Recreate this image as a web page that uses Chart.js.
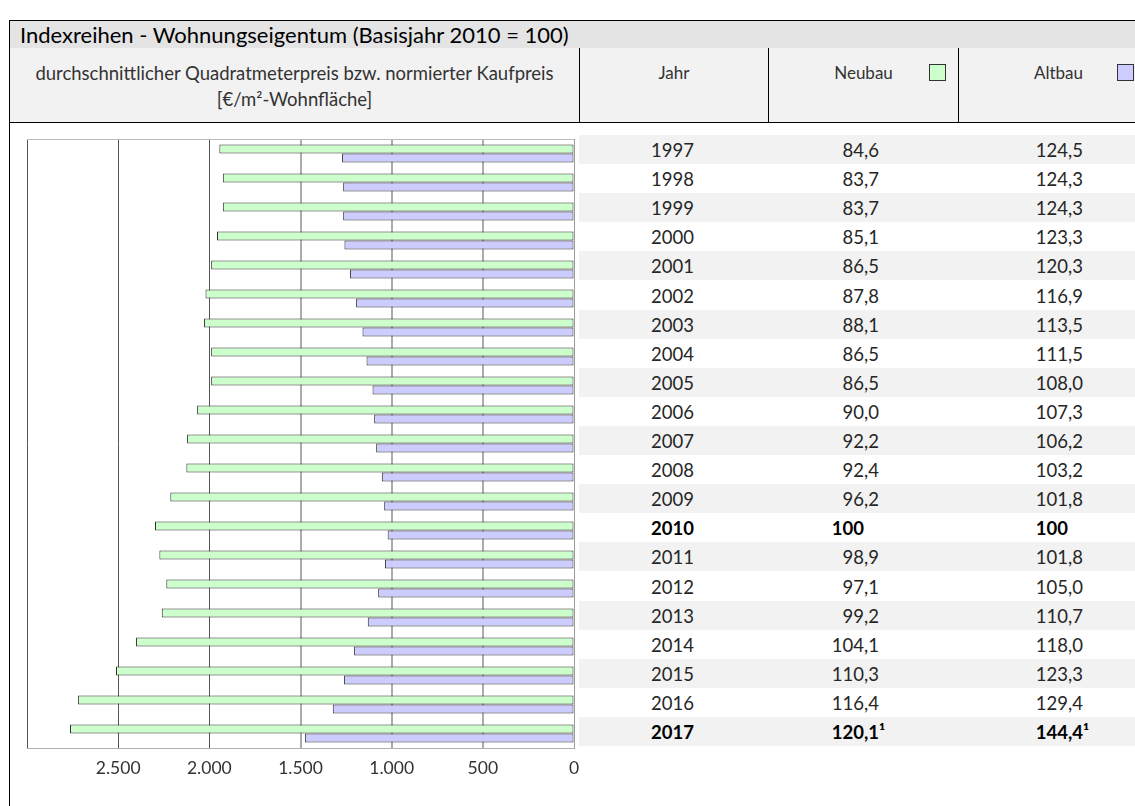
<!DOCTYPE html>
<html lang="de">
<head>
<meta charset="utf-8">
<title>Indexreihen - Wohnungseigentum</title>
<script src="https://cdn.jsdelivr.net/npm/chart.js@4.4.1/dist/chart.umd.min.js"></script>
<style>
  html, body { margin: 0; padding: 0; background: #fff; }
  body { width: 1135px; height: 806px; position: relative; overflow: hidden;
         font-family: "Lato", "Noto Sans", sans-serif; color: #2a2a2a; }
  .abs { position: absolute; }
  #head { left: 9px; top: 20px; width: 1140px; height: 29px; background: #e4e4e4;
          border-top: 1px solid #000; border-left: 1px solid #000; border-bottom: 1px solid #000;
          font-size: 22px; line-height: 27px; color: #000; box-sizing: border-box; padding-left: 10px; }
  #sub { left: 9px; top: 48px; width: 1140px; height: 75px; background: #f2f2f2;
         border-left: 1px solid #000; border-bottom: 1px solid #000; box-sizing: border-box; }
  .cell { position: absolute; top: 0; height: 74px; box-sizing: border-box; text-align: center;
          font-size: 17px; line-height: 26px; padding-top: 12px; color: #333; }
  .cell.wide { font-size: 18.5px; }
  .sep { border-left: 1px solid #000; }
  .key { display: inline-block; width: 15px; height: 15px; border: 1px solid #333;
         position: absolute; top: 16px; }
  #leftline { left: 9px; top: 122px; width: 1px; height: 700px; background: #000; }
  #rows { left: 579px; top: 135px; width: 560px; }
  .row { position: absolute; left: 0; width: 560px; height: 29.1px; font-size: 18.5px;
         line-height: 29px; color: #262626; }
  .row.g { background: #f2f2f2; }
  .row.b { font-weight: bold; color: #000; }
  .yr { position: absolute; left: 72px; top: 1px; }
  .val { position: absolute; top: 1px; white-space: nowrap; }
  .int { display: inline-block; text-align: right; width: 40px; }
  #c { position: absolute; left: 0; top: 0; z-index: 2; }
</style>
</head>
<body>
<div id="head" class="abs">Indexreihen - Wohnungseigentum (Basisjahr 2010 = 100)</div>
<div id="sub" class="abs">
  <div class="cell wide" style="left:0;width:569px;">durchschnittlicher Quadratmeterpreis bzw. normierter Kaufpreis<br>[€/m²-Wohnfläche]</div>
  <div class="cell sep" style="left:569px;width:189px;">Jahr</div>
  <div class="cell sep" style="left:758px;width:190px;">Neubau</div>
  <div class="cell sep" style="left:948px;width:200px;">Altbau</div>
  <span class="key" style="left:919px;background:#ccffcc;"></span>
  <span class="key" style="left:1107px;background:#ccccff;"></span>
</div>
<div id="leftline" class="abs"></div>
<div id="rows" class="abs"></div>
<canvas id="c" width="1135" height="806"></canvas>

<script>
// Jahre (Kategorien)
const jahre = ['1997','1998','1999','2000','2001','2002','2003','2004','2005','2006','2007',
               '2008','2009','2010','2011','2012','2013','2014','2015','2016','2017'];

// durchschnittlicher Quadratmeterpreis bzw. normierter Kaufpreis [€/m²]
const neubauPreis = [1945,1926,1926,1958,1990,2021,2029,1990,1990,2067,2122,
                     2126,2214,2298,2274,2236,2261,2402,2512,2721,2764];
const altbauPreis = [1272,1266,1266,1259,1229,1195,1160,1138,1105,1096,1085,
                     1054,1041,1022,1037,1074,1131,1206,1261,1323,1476];

// Indexwerte (Basisjahr 2010 = 100)
const neubauIndex = ['84,6','83,7','83,7','85,1','86,5','87,8','88,1','86,5','86,5','90,0','92,2',
                     '92,4','96,2','100','98,9','97,1','99,2','104,1','110,3','116,4','120,1'];
const altbauIndex = ['124,5','124,3','124,3','123,3','120,3','116,9','113,5','111,5','108,0','107,3','106,2',
                     '103,2','101,8','100','101,8','105,0','110,7','118,0','123,3','129,4','144,4'];

// hervorgehobene Jahre und Fußnotenzeichen
const fettJahre = ['2010','2017'];
const fussnote = { '2017': '¹' };

// Achsenbeschriftung
const achseMax = 3000;
const achseSchritt = 500;

function fmtTausend(v) {
  return String(v).replace(/\B(?=(\d{3})+(?!\d))/g, '.');
}

// Tabelle rechts neben dem Diagramm
const rowsEl = document.getElementById('rows');
function valueHtml(txt, mark) {
  const i = txt.indexOf(',');
  const intPart = i < 0 ? txt : txt.slice(0, i);
  const frac = i < 0 ? '' : txt.slice(i);
  return '<span class="int">' + intPart + '</span>' + frac + (mark || '');
}
jahre.forEach((j, k) => {
  const r = document.createElement('div');
  r.className = 'row' + (k % 2 === 0 ? ' g' : '') + (fettJahre.includes(j) ? ' b' : '');
  r.style.top = (k * 29.1) + 'px';
  const mark = fussnote[j] || '';
  r.innerHTML =
    '<span class="yr">' + j + '</span>' +
    '<span class="val" style="left:245px">' + valueHtml(neubauIndex[k], mark) + '</span>' +
    '<span class="val" style="left:449px">' + valueHtml(altbauIndex[k], mark) + '</span>';
  rowsEl.appendChild(r);
});

// obere Rahmenlinie der Zeichenfläche
const rahmen = {
  id: 'rahmen',
  afterDraw(chart) {
    const { ctx, chartArea: a } = chart;
    ctx.save();
    ctx.strokeStyle = '#bdbdbd';
    ctx.lineWidth = 1;
    ctx.beginPath();
    ctx.moveTo(a.left, a.top + 0.5);
    ctx.lineTo(a.right, a.top + 0.5);
    ctx.stroke();
    ctx.restore();
  }
};

new Chart(document.getElementById('c'), {
  type: 'bar',
  data: {
    labels: jahre,
    datasets: [
      { label: 'Neubau', data: neubauPreis, backgroundColor: '#ccffcc',
        borderColor: '#2e2e2e', borderWidth: 1, borderSkipped: false },
      { label: 'Altbau', data: altbauPreis, backgroundColor: '#ccccff',
        borderColor: '#2e2e2e', borderWidth: 1, borderSkipped: false }
    ]
  },
  options: {
    indexAxis: 'y',
    responsive: false,
    animation: false,
    events: [],
    layout: { padding: { left: 27, top: 139, right: 561, bottom: 0 } },
    datasets: { bar: { categoryPercentage: 0.62, barPercentage: 1.0 } },
    plugins: { legend: { display: false }, tooltip: { enabled: false } },
    scales: {
      x: {
        type: 'linear',
        reverse: true,
        min: 0,
        max: achseMax,
        position: 'bottom',
        afterFit(s) { s.height = 58; },
        ticks: {
          stepSize: achseSchritt,
          padding: 10,
          color: '#333',
          font: { family: 'Lato', size: 17.5 },
          callback: v => (v >= achseMax ? '' : fmtTausend(v))
        },
        grid: {
          drawTicks: false,
          color: c => (c.tick && c.tick.value >= 2000 ? '#555555' : '#ababab'),
          lineWidth: c => (c.tick && (c.tick.value >= 2000 || c.tick.value === 0) ? 1 : 2)
        },
        border: { display: true, color: '#b0b0b0', width: 1 }
      },
      y: {
        position: 'right',
        afterFit(s) { s.width = 0; },
        ticks: { display: false },
        grid: { display: false, drawTicks: false },
        border: { display: true, color: '#9a9a9a' }
      }
    }
  },
  plugins: [rahmen]
});
</script>
</body>
</html>
